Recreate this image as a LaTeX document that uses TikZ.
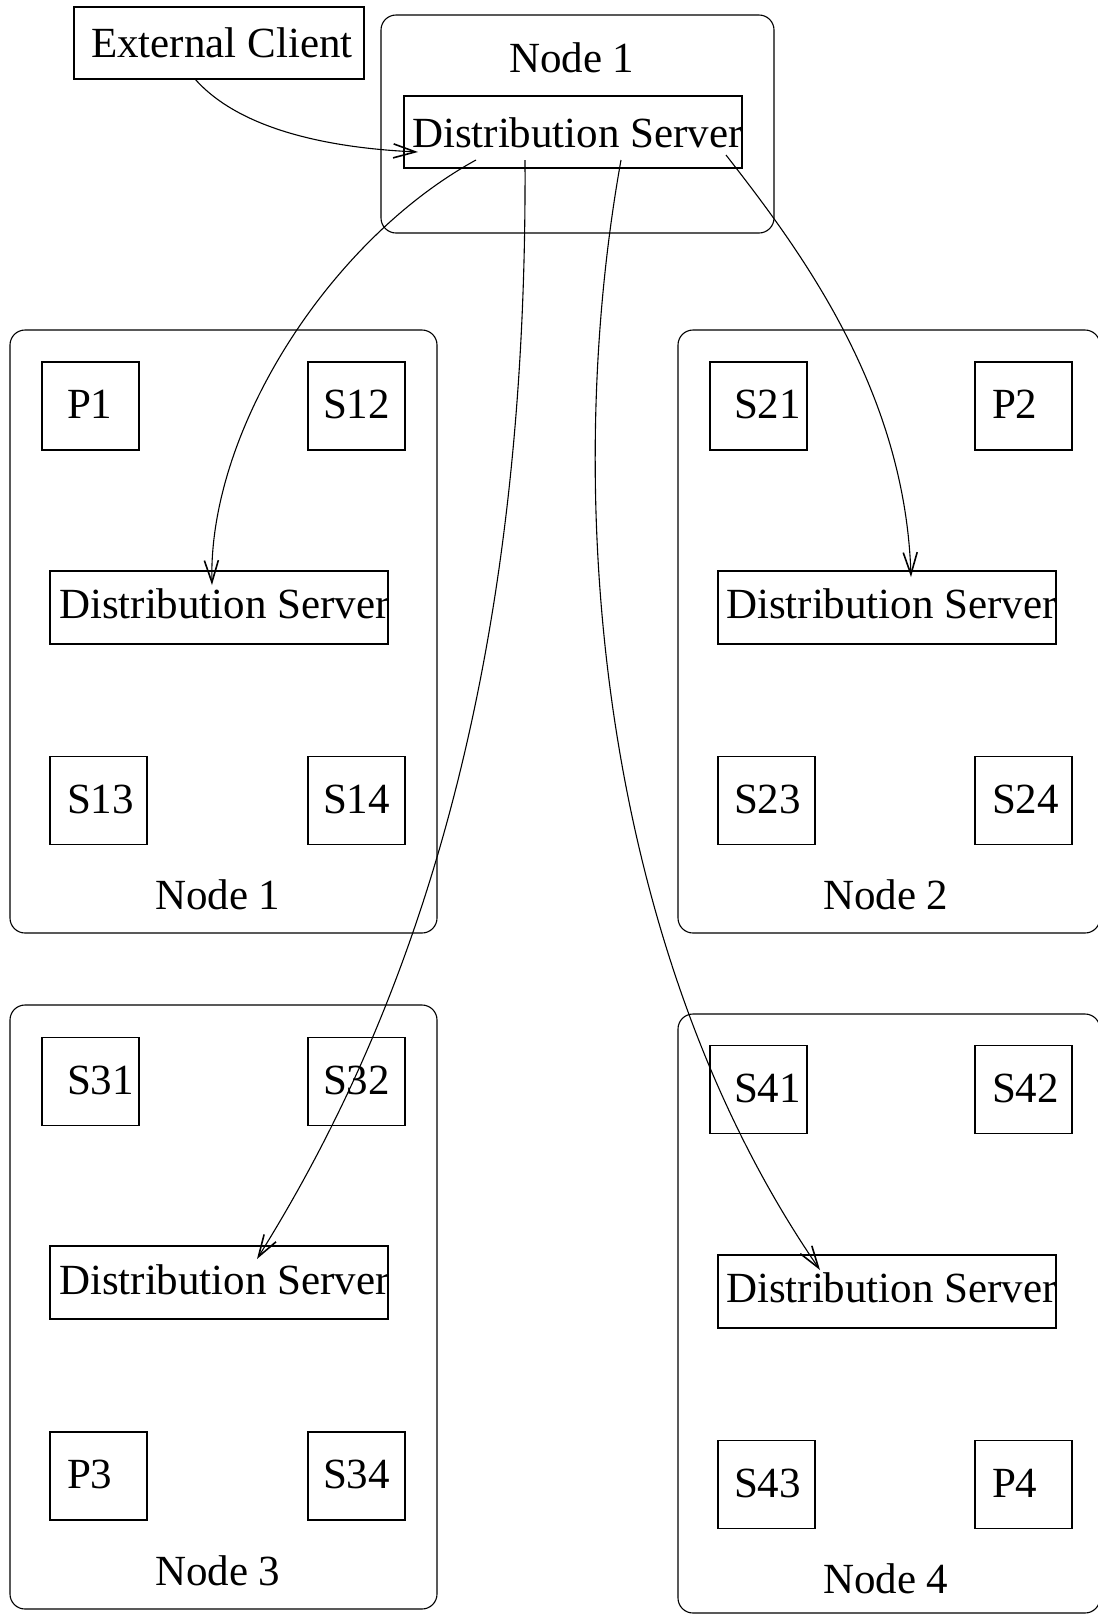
\documentclass[tikz,border=0pt]{standalone}
\usepackage{fontspec}
\setmainfont{Liberation Serif}
\usetikzlibrary{arrows.meta,calc}
\begin{document}
\begin{tikzpicture}[x=1pt,y=-1pt,
  line width=1.1pt,
  every node/.style={inner sep=0pt, outer sep=0pt},
  frame/.style={draw, rounded corners=15pt},
  box/.style={draw, minimum width=#1},
  small/.style={box=97pt, minimum height=88pt},
  dsbox/.style={box=338pt, minimum height=73pt},
  txt/.style={anchor=base west, font=\fontsize{43}{50}\selectfont},
  flow/.style={-{Straight Barb[length=22pt,width=14pt,line width=1.6pt]}, line width=1.1pt}
]
\useasboundingbox (0,0) rectangle (1098,1615);
\clip (0,0) rectangle (1098,1615);

% ---- top: client and the entry node ----
\node[box=290pt, minimum height=72pt] (ext) at (219,43) {};
\node[txt] (extT) at (91,57) {External Client};
\node[frame, minimum width=393pt, minimum height=218pt] (top) at (577.5,124) {};
\node[txt] (topT) at (509,72) {Node 1};
\node[box=338pt, minimum height=72pt] (topds) at (573,132) {};
\node[txt] (topdsT) at (412,147) {Distribution Server};

% ---- Node 1 ----
\node[frame, minimum width=427pt, minimum height=603pt] (n1) at (223.5,631.5) {};
\node[small] (p1) at (90.5,406) {};
\node[small] (s12) at (356.5,406) {};
\node[dsbox] (ds1) at (219,607.5) {};
\node[small] (s13) at (98.5,800.5) {};
\node[small] (s14) at (356.5,800.5) {};
\node[txt] at (67,418) {P1};
\node[txt] at (323,418) {S12};
\node[txt] at (59,618) {Distribution Server};
\node[txt] at (67,813) {S13};
\node[txt] at (323,813) {S14};
\node[txt] at (155,909) {Node 1};

% ---- Node 2 ----
\node[frame, minimum width=422pt, minimum height=603pt] (n2) at (889,631.5) {};
\node[small] (s21) at (758.5,406) {};
\node[small] (p2) at (1023.5,406) {};
\node[dsbox] (ds2) at (887,607.5) {};
\node[small] (s23) at (766.5,800.5) {};
\node[small] (s24) at (1023.5,800.5) {};
\node[txt] at (734,418) {S21};
\node[txt] at (992,418) {P2};
\node[txt] at (726,618) {Distribution Server};
\node[txt] at (734,813) {S23};
\node[txt] at (992,813) {S24};
\node[txt] at (823,909) {Node 2};

% ---- Node 3 ----
\node[frame, minimum width=427pt, minimum height=604pt] (n3) at (223.5,1307) {};
\node[small] (s31) at (90.5,1081.5) {};
\node[small] (s32) at (356.5,1081.5) {};
\node[dsbox] (ds3) at (219,1282.5) {};
\node[small] (p3) at (98.5,1476) {};
\node[small] (s34) at (356.5,1476) {};
\node[txt] at (67,1094) {S31};
\node[txt] at (323,1094) {S32};
\node[txt] at (59,1294) {Distribution Server};
\node[txt] at (67,1488) {P3};
\node[txt] at (323,1488) {S34};
\node[txt] at (155,1585) {Node 3};

% ---- Node 4 ----
\node[frame, minimum width=422pt, minimum height=599pt] (n4) at (889,1313.5) {};
\node[small] (s41) at (758.5,1089.5) {};
\node[small] (s42) at (1023.5,1089.5) {};
\node[dsbox] (ds4) at (887,1291.5) {};
\node[small] (s43) at (766.5,1484.5) {};
\node[small] (p4) at (1023.5,1484.5) {};
\node[txt] at (734,1102) {S41};
\node[txt] at (992,1102) {S42};
\node[txt] at (726,1302) {Distribution Server};
\node[txt] at (734,1497) {S43};
\node[txt] at (992,1497) {P4};
\node[txt] at (823,1593) {Node 4};

% ---- connector ends ----
\coordinate (c0) at ([shift={(-24pt,0pt)}]ext.south);
\coordinate (c0e) at ([shift={(14pt,16pt)}]topds.south west);
\coordinate (o1) at ([shift={(72pt,8pt)}]topds.south west);
\coordinate (o3) at ([shift={(121pt,8pt)}]topds.south west);
\coordinate (o4) at ([shift={(217pt,8pt)}]topds.south west);
\coordinate (o2) at ([shift={(322pt,13pt)}]topds.south west);
\coordinate (e1) at ([shift={(162pt,-14pt)}]ds1.north west);
\coordinate (e2) at ([shift={(193pt,-6pt)}]ds2.north west);
\coordinate (e3) at ([shift={(207pt,-13pt)}]ds3.north west);
\coordinate (e4) at ([shift={(102pt,-15pt)}]ds4.north west);

% ---- connectors ----
\draw[flow] (c0) .. controls (240,130) and (330,148) .. (c0e);
\draw[flow] (o1) .. controls (330,240) and (208,430) .. (e1);
\draw[flow] (o3) .. controls (528,700) and (400,1030) .. (e3);
\draw[flow] (o4) .. controls (560,500) and (600,950) .. (e4);
\draw[flow] (o2) .. controls (800,250) and (905,390) .. (e2);
\end{tikzpicture}
\end{document}
